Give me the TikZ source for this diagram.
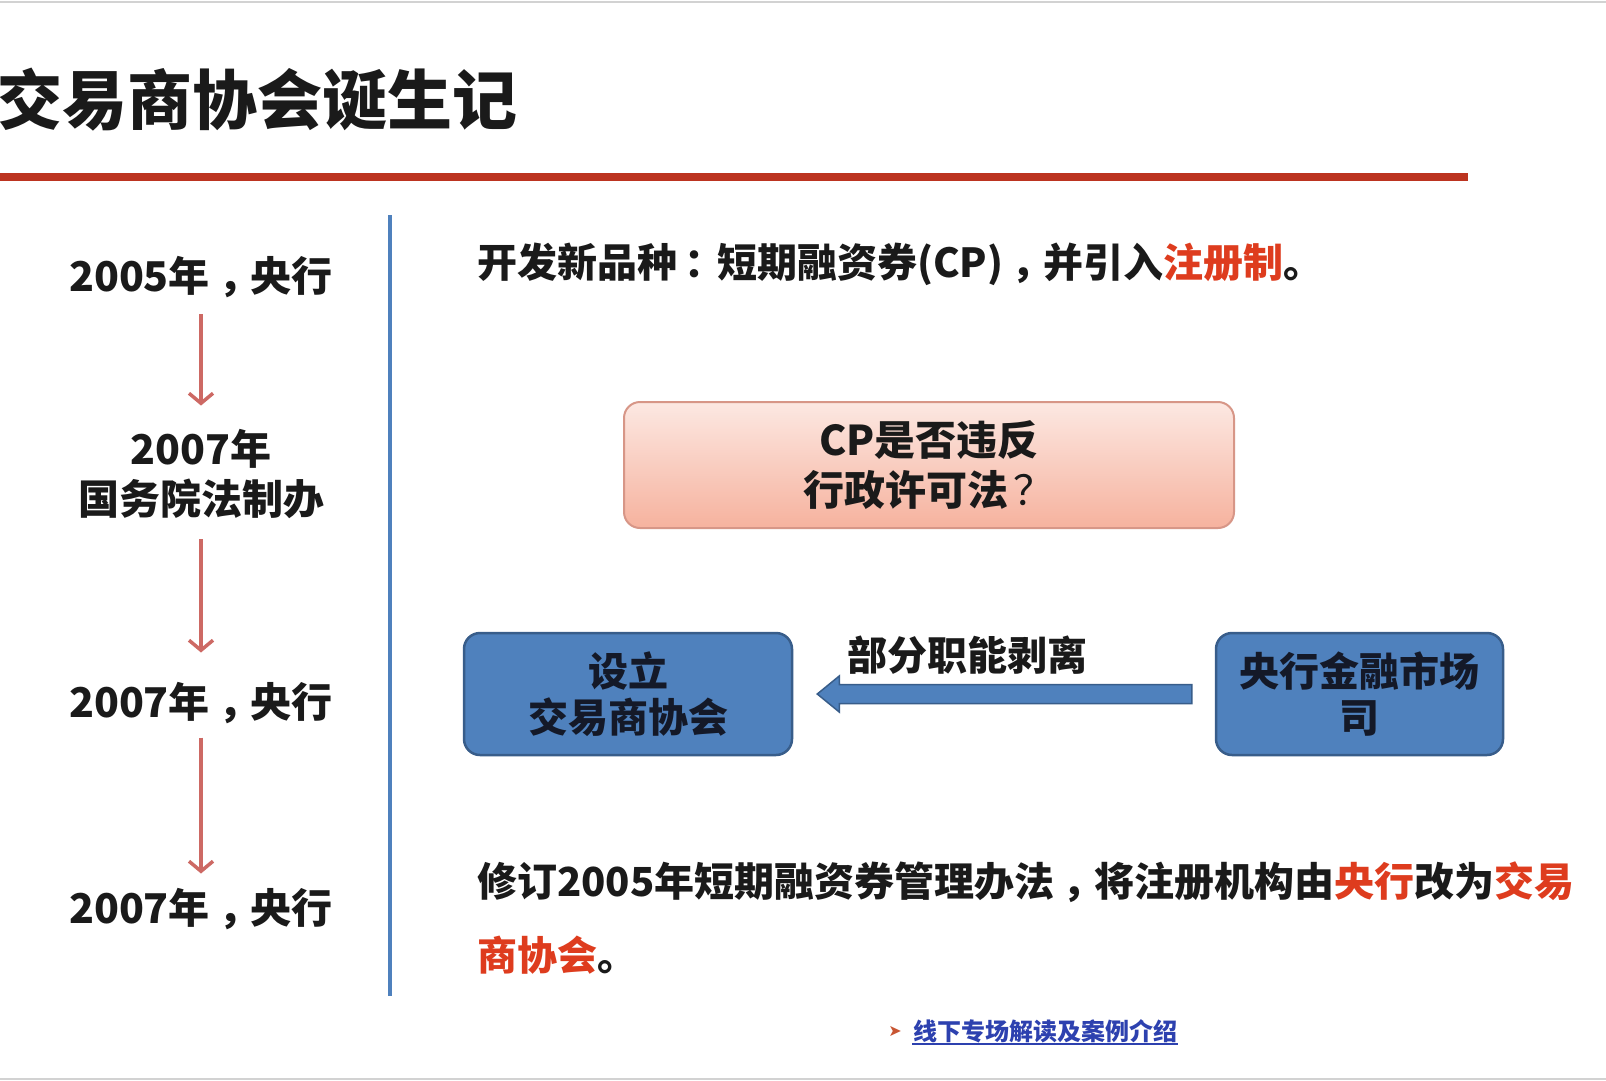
\documentclass[tikz,border=0pt]{standalone}
\usepackage{fontspec}
\newfontfamily\cjk{Noto Sans CJK SC}
\newfontfamily\dejavu{DejaVu Sans}
\usetikzlibrary{arrows.meta,calc}
\newcommand\zcomma{\hspace{0.2em}，\hspace{-0.2em}}
\newcommand\zcolon{\hspace{0.18em}：\hspace{-0.18em}}
\newcommand\zquery{\hspace{0.12em}？\hspace{-0.12em}}
\definecolor{ink}{RGB}{26,26,26}
\definecolor{rulered}{RGB}{188,52,32}
\definecolor{vblue}{RGB}{79,129,189}
\definecolor{boxblue}{RGB}{79,129,189}
\definecolor{boxedge}{RGB}{56,93,138}
\definecolor{tlred}{RGB}{205,105,100}
\definecolor{hired}{RGB}{222,60,30}
\definecolor{pinktop}{RGB}{252,232,226}
\definecolor{pinkbot}{RGB}{246,178,158}
\definecolor{pinkedge}{RGB}{215,150,135}
\definecolor{linkblue}{RGB}{45,65,175}
\definecolor{chevcol}{RGB}{200,85,50}
\definecolor{boxtext}{RGB}{20,25,40}
\begin{document}
\begin{tikzpicture}[x=1pt,y=-1pt,
  titletext/.style={font=\cjk\bfseries\fontsize{65}{70}\selectfont, text=ink, inner sep=0pt, anchor=west},
  tltext/.style={font=\cjk\bfseries\fontsize{41}{50}\selectfont, text=ink, align=center, inner sep=0pt},
  tlarrow/.style={draw=tlred, line width=3.5pt, -{Straight Barb[length=10pt,width=24pt]}},
  bodytext/.style={font=\cjk\bfseries\fontsize{40}{74}\selectfont, text=ink, anchor=west, align=left, inner sep=0pt},
  pinkbox/.style={rounded corners=16pt, draw=pinkedge, line width=2pt, top color=pinktop, bottom color=pinkbot,
    minimum width=610pt, minimum height=126pt, font=\cjk\bfseries\fontsize{41}{50}\selectfont, text=ink, align=center},
  bluebox/.style={rounded corners=16pt, draw=boxedge, line width=2.5pt, fill=boxblue, minimum height=122pt,
    font=\cjk\bfseries\fontsize{40}{46}\selectfont, text=boxtext, align=center},
  blockarrow/.style={draw=boxedge, line width=1.5pt, fill=boxblue},
  redrule/.style={draw=rulered, line width=8pt},
  vline/.style={draw=vblue, line width=4pt},
  border/.style={draw=gray!35, line width=2pt}
]
\useasboundingbox (0,0) rectangle (1606,1080);
\fill[white] (0,0) rectangle (1606,1080);
\draw[border] (0,1.5) -- (1606,1.5);
\draw[border] (0,1078.5) -- (1606,1078.5);

% title and rule
\node[titletext] (title) at (-3,100) {交易商协会诞生记};
\draw[redrule] (0,177) -- (1468,177);
\draw[vline] (390,215) -- (390,996);

% timeline
\node[tltext] (t1) at (201,277) {2005年\zcomma 央行};
\node[tltext] (t2) at (201,474) {2007年\\国务院法制办};
\node[tltext] (t3) at (201,703) {2007年\zcomma 央行};
\node[tltext] (t4) at (201,909) {2007年\zcomma 央行};
\draw[tlarrow, shorten <=16.5pt, shorten >=23.5pt] (t1.south) -- (t2.north);
\draw[tlarrow, shorten <=20.5pt, shorten >=29.5pt] (t2.south) -- (t3.north);
\draw[tlarrow, shorten <=13.5pt, shorten >=14.5pt] (t3.south) -- (t4.north);

% right side
\node[bodytext] (intro) at (477,264) {开发新品种\zcolon 短期融资券(CP)\zcomma 并引入\textcolor{hired}{注册制}。};
\node[pinkbox] (cpq) at (929,465) {CP是否违反\\行政许可法{\mdseries\zquery}};
\node[bluebox, minimum width=328pt] (lbox) at (628,694) {设立\\交易商协会};
\node[bluebox, minimum width=287pt] (rbox) at (1359.5,694) {央行金融市场\\司};
\draw[blockarrow] ($(rbox.west)+(-23,-9.5)$) -- ($(lbox.east)+(46,-9.5)$) -- ($(lbox.east)+(46,-18)$)
  -- ($(lbox.east)+(24,0)$) -- ($(lbox.east)+(46,18)$) -- ($(lbox.east)+(46,9.5)$)
  -- ($(rbox.west)+(-23,9.5)$) -- cycle;
\node[bodytext, anchor=center] (lbl) at (967,655) {部分职能剥离};

\node[bodytext] (rev) at (477,918) {修订2005年短期融资券管理办法\zcomma 将注册机构由\textcolor{hired}{央行}改为\textcolor{hired}{交易}\\\textcolor{hired}{商协会}。};

% link
\node[font=\dejavu\fontsize{16}{18}\selectfont, text=chevcol, inner sep=0pt] (chev) at (895,1031) {➤};
\node[font=\cjk\bfseries\fontsize{24}{28}\selectfont, text=linkblue, anchor=west, inner sep=1pt] (link) at (912,1031) {线下专场解读及案例介绍};
\draw[draw=linkblue, line width=1.5pt] (link.south west) -- (link.south east);
\end{tikzpicture}
\end{document}
